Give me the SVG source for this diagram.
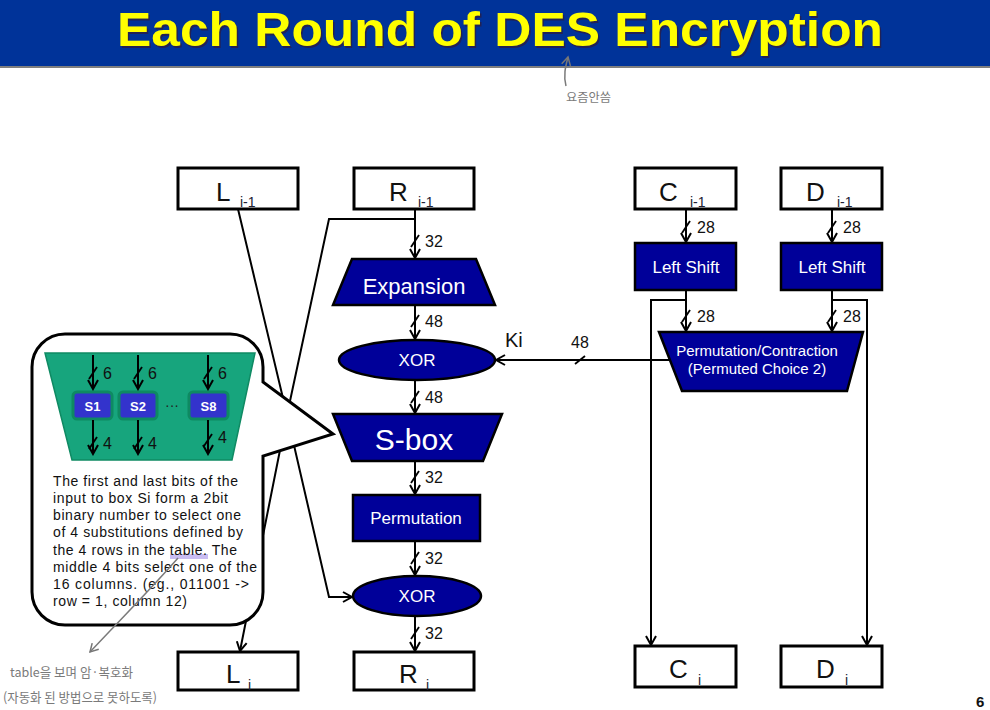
<svg xmlns="http://www.w3.org/2000/svg" width="990" height="710" viewBox="0 0 990 710">
<style>
.box{fill:#fff;stroke:#000;stroke-width:3}
.blue{fill:#000099;stroke:#000;stroke-width:2.5}
.big{font-family:"Liberation Sans",Arial,sans-serif;font-size:26px;fill:#111}
.sub{font-family:"Liberation Sans",Arial,sans-serif;font-size:14px;fill:#223}
.wt{font-family:"Liberation Sans",Arial,sans-serif;fill:#fff;text-anchor:middle}
.lbl{font-family:"Liberation Sans",Arial,sans-serif;font-size:16px;fill:#111}
.ln{fill:none;stroke:#000;stroke-width:2}
.arr{fill:none;stroke:#000;stroke-width:2;marker-end:url(#ah)}
.sl{stroke:#000;stroke-width:1.8}
.cap{font-family:"Liberation Sans",Arial,sans-serif;font-size:14px;fill:#111}
.hw{font-family:"Noto Sans CJK KR",sans-serif;fill:#7a7a7a}
</style>
<defs>
<marker id="ah" markerWidth="12" markerHeight="12" refX="10" refY="6" orient="auto" markerUnits="userSpaceOnUse">
<path d="M1,1 L10,6 L1,11" fill="none" stroke="#000" stroke-width="2"/>
</marker>
<marker id="gh" markerWidth="12" markerHeight="12" refX="10" refY="6" orient="auto" markerUnits="userSpaceOnUse">
<path d="M2,1.5 L10,6 L2,10.5" fill="none" stroke="#777" stroke-width="1.5"/>
</marker>
</defs>
<rect width="990" height="710" fill="#fff"/>
<g id="title">
<rect x="0" y="0" width="990" height="66" fill="#003399"/>
<line x1="0" y1="67" x2="990" y2="67" stroke="#555" stroke-width="1.5"/>
<text x="118.5" y="47.5" font-family="'Liberation Sans',Arial,sans-serif" font-weight="bold" font-size="48" fill="#222255" textLength="766" lengthAdjust="spacingAndGlyphs">Each Round of DES Encryption</text>
<text x="117" y="46" font-family="'Liberation Sans',Arial,sans-serif" font-weight="bold" font-size="48" fill="#ffff00" textLength="766" lengthAdjust="spacingAndGlyphs">Each Round of DES Encryption</text>
</g>
<g id="note-top">
<path d="M566,86 C563,75 566,65 568,57" fill="none" stroke="#7a7a7a" stroke-width="1.5" marker-end="url(#gh)"/>
<text class="hw" x="566" y="102" font-size="12" textLength="45" lengthAdjust="spacingAndGlyphs">요즘안씀</text>
</g>
<g id="connectors">
<line class="arr" x1="415" y1="209" x2="415" y2="258"/>
<line class="sl" x1="411" y1="247" x2="419" y2="235"/>
<text class="lbl" x="425" y="247">32</text>
<line class="arr" x1="415" y1="305" x2="415" y2="339"/>
<line class="sl" x1="411" y1="327" x2="419" y2="315"/>
<text class="lbl" x="425" y="327">48</text>
<line class="arr" x1="415" y1="380" x2="415" y2="413"/>
<line class="sl" x1="411" y1="403" x2="419" y2="391"/>
<text class="lbl" x="425" y="403">48</text>
<line class="arr" x1="415" y1="461" x2="415" y2="494"/>
<line class="sl" x1="411" y1="483" x2="419" y2="471"/>
<text class="lbl" x="425" y="483">32</text>
<line class="arr" x1="415" y1="541" x2="415" y2="575"/>
<line class="sl" x1="411" y1="564" x2="419" y2="552"/>
<text class="lbl" x="425" y="564">32</text>
<line class="arr" x1="415" y1="616" x2="415" y2="651"/>
<line class="sl" x1="411" y1="639" x2="419" y2="627"/>
<text class="lbl" x="425" y="639">32</text>
<line class="arr" x1="686" y1="209" x2="686" y2="242"/>
<line class="sl" x1="682" y1="233" x2="690" y2="221"/>
<text class="lbl" x="697" y="233">28</text>
<line class="arr" x1="686" y1="290" x2="686" y2="331"/>
<line class="sl" x1="682" y1="322" x2="690" y2="310"/>
<text class="lbl" x="697" y="322">28</text>
<line class="arr" x1="832" y1="209" x2="832" y2="242"/>
<line class="sl" x1="828" y1="233" x2="836" y2="221"/>
<text class="lbl" x="843" y="233">28</text>
<line class="arr" x1="832" y1="290" x2="832" y2="331"/>
<line class="sl" x1="828" y1="322" x2="836" y2="310"/>
<text class="lbl" x="843" y="322">28</text>
<path class="arr" d="M686,300 H651 V645"/>
<path class="arr" d="M832,300 H867 V645"/>
<line class="arr" x1="670" y1="360" x2="496" y2="360"/>
<line class="sl" x1="575" y1="364" x2="585" y2="356"/>
<text class="lbl" x="571" y="348">48</text>
<text x="505" y="347" font-family="'Liberation Sans',Arial,sans-serif" font-size="20" fill="#111">Ki</text>
<path class="arr" d="M238,209 L287,415 L240,651"/>
<path class="arr" d="M415,219 H329 L287,415 L329,597 H352"/>
</g>
<g id="L_prev"><rect class="box" x="178" y="168" width="120" height="41"/><text class="big" x="216" y="201">L</text><text class="sub" x="240" y="207">i-1</text></g>
<g id="R_prev"><rect class="box" x="354" y="168" width="120" height="41"/><text class="big" x="389" y="201">R</text><text class="sub" x="418" y="207">i-1</text></g>
<g id="C_prev"><rect class="box" x="635" y="168" width="101" height="41"/><text class="big" x="659" y="201">C</text><text class="sub" x="690" y="207">i-1</text></g>
<g id="D_prev"><rect class="box" x="781" y="168" width="101" height="41"/><text class="big" x="806" y="201">D</text><text class="sub" x="837" y="207">i-1</text></g>
<g id="shiftC"><rect class="blue" x="635" y="243" width="101" height="47"/><text class="wt" x="686" y="273" font-size="17">Left Shift</text></g>
<g id="shiftD"><rect class="blue" x="781" y="243" width="101" height="47"/><text class="wt" x="832" y="273" font-size="17">Left Shift</text></g>
<g id="pc2"><polygon class="blue" points="659,332 863,332 847,391 682,391"/><text class="wt" x="757" y="356" font-size="15">Permutation/Contraction</text><text class="wt" x="757" y="374" font-size="15">(Permuted Choice 2)</text></g>
<g id="expansion"><polygon class="blue" points="352,259 476,259 495,305 333,305"/><text class="wt" x="414" y="294" font-size="22">Expansion</text></g>
<g id="xor1"><ellipse class="blue" cx="417" cy="360" rx="78" ry="20"/><text class="wt" x="417" y="366" font-size="17">XOR</text></g>
<g id="sbox"><polygon class="blue" points="333,414 502,414 483,461 352,461"/><text class="wt" x="414" y="450" font-size="30">S-box</text></g>
<g id="permutation"><rect class="blue" x="353" y="495" width="127" height="46"/><text class="wt" x="416" y="524" font-size="17">Permutation</text></g>
<g id="xor2"><ellipse class="blue" cx="417" cy="596" rx="64" ry="20"/><text class="wt" x="417" y="602" font-size="17">XOR</text></g>
<g id="L_i"><rect class="box" x="178" y="652" width="120" height="38"/><text class="big" x="226" y="683">L</text><text class="sub" x="248" y="690">i</text></g>
<g id="R_i"><rect class="box" x="354" y="652" width="120" height="38"/><text class="big" x="399" y="683">R</text><text class="sub" x="426" y="690">i</text></g>
<g id="C_i"><rect class="box" x="635" y="646" width="101" height="41"/><text class="big" x="669" y="678">C</text><text class="sub" x="698" y="685">i</text></g>
<g id="D_i"><rect class="box" x="781" y="646" width="101" height="41"/><text class="big" x="816" y="678">D</text><text class="sub" x="845" y="685">i</text></g>
<g id="callout">
<path d="M65,334 H230 A33,33 0 0 1 263,367 V382 L333,434 L263,456 V592 A33,33 0 0 1 230,625 H65 A33,33 0 0 1 32,592 V367 A33,33 0 0 1 65,334 Z" fill="#fff" stroke="#000" stroke-width="3"/>
<polygon points="45,353 255,353 232,460 72,460" fill="#17a57d" stroke="#0f8a63" stroke-width="1.5"/>
<g fill="#3333cc" stroke="#0e8a62" stroke-width="3">
<rect x="73" y="392" width="39" height="27" rx="4"/>
<rect x="119" y="392" width="38" height="27" rx="4"/>
<rect x="189" y="392" width="39" height="27" rx="4"/>
</g>
<text class="wt" x="92.5" y="411" font-size="13" font-weight="bold">S1</text>
<text class="wt" x="138" y="411" font-size="13" font-weight="bold">S2</text>
<text class="wt" x="208.5" y="411" font-size="13" font-weight="bold">S8</text>
<text x="172" y="410" font-family="'Liberation Sans',Arial,sans-serif" font-size="14" fill="#222" text-anchor="middle">···</text>
<g>
<line class="arr" x1="93" y1="355" x2="93" y2="389"/><line class="sl" x1="89" y1="379" x2="97" y2="367"/><text class="lbl" x="103" y="379" font-size="18">6</text>
<line class="arr" x1="138" y1="355" x2="138" y2="389"/><line class="sl" x1="134" y1="379" x2="142" y2="367"/><text class="lbl" x="148" y="379" font-size="18">6</text>
<line class="arr" x1="208" y1="355" x2="208" y2="389"/><line class="sl" x1="204" y1="379" x2="212" y2="367"/><text class="lbl" x="218" y="379" font-size="18">6</text>
<line class="arr" x1="93" y1="420" x2="93" y2="454"/><line class="sl" x1="89" y1="449" x2="97" y2="437"/><text class="lbl" x="103" y="449" font-size="18">4</text>
<line class="arr" x1="138" y1="420" x2="138" y2="454"/><line class="sl" x1="134" y1="449" x2="142" y2="437"/><text class="lbl" x="148" y="449" font-size="18">4</text>
<line class="arr" x1="208" y1="420" x2="208" y2="454"/><line class="sl" x1="204" y1="446" x2="212" y2="434"/><text class="lbl" x="218" y="443" font-size="18">4</text>
</g>
<rect x="170" y="554" width="38" height="5" fill="#c9bdf2"/>
<text class="cap" x="53" y="486" textLength="185" lengthAdjust="spacing">The first and last bits of the</text>
<text class="cap" x="53" y="503" textLength="175" lengthAdjust="spacing">input to box Si form a 2bit</text>
<text class="cap" x="53" y="520" textLength="188" lengthAdjust="spacing">binary number to select one</text>
<text class="cap" x="53" y="537" textLength="190" lengthAdjust="spacing">of 4 substitutions defined by</text>
<text class="cap" x="53" y="555" textLength="184" lengthAdjust="spacing">the 4 rows in the table. The</text>
<text class="cap" x="53" y="572" textLength="204" lengthAdjust="spacing">middle 4 bits select one of the</text>
<text class="cap" x="53" y="589" textLength="196" lengthAdjust="spacing">16 columns. (eg., 011001 -&gt;</text>
<text class="cap" x="53" y="606" textLength="134" lengthAdjust="spacing">row = 1, column 12)</text>
</g>
<g id="note-bottom">
<path d="M178,558 C150,590 120,620 90,652" fill="none" stroke="#7a7a7a" stroke-width="1.5" marker-end="url(#gh)"/>
<text class="hw" x="10" y="677" font-size="13" textLength="123" lengthAdjust="spacingAndGlyphs">table을 보며 암·복호화</text>
<text class="hw" x="3" y="702" font-size="13" textLength="154" lengthAdjust="spacingAndGlyphs">(자동화 된 방법으로 못하도록)</text>
</g>
<text x="976" y="707" font-family="'Liberation Sans',Arial,sans-serif" font-weight="bold" font-size="15" fill="#111">6</text>
</svg>
